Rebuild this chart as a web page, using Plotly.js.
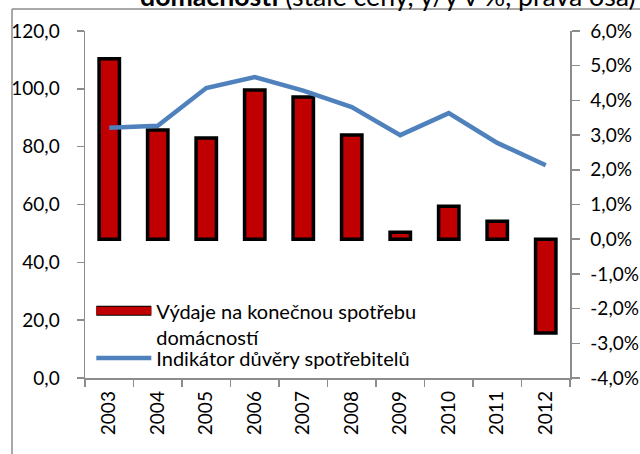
<!DOCTYPE html>
<html>
<head>
<meta charset="utf-8">
<script src="https://cdn.plot.ly/plotly-3.0.1.min.js"></script>
<style>html,body{margin:0;padding:0;background:#fff;}#chart{width:640px;height:454px;}</style>
</head>
<body>
<div id="chart"></div>
<script>
const years = ["2003","2004","2005","2006","2007","2008","2009","2010","2011","2012"];
const spendingPct = [5.2, 3.15, 2.92, 4.3, 4.1, 3.0, 0.2, 0.95, 0.52, -2.7];
const confidence = [86.5, 87.2, 100.3, 104.1, 99.4, 93.7, 84.0, 91.6, 81.3, 73.6];
const leftTicks = [0, 20, 40, 60, 80, 100, 120];
const leftTickText = ["0,0", "20,0", "40,0", "60,0", "80,0", "100,0", "120,0"];
const rightTicks = [-4, -3, -2, -1, 0, 1, 2, 3, 4, 5, 6];
const rightTickText = ["-4,0%", "-3,0%", "-2,0%", "-1,0%", "0,0%", "1,0%", "2,0%", "3,0%", "4,0%", "5,0%", "6,0%"];
const spendingName = "Výdaje na konečnou spotřebu<br>domácností";
const confidenceName = "Indikátor důvěry spotřebitelů";
const titleText = "<b>domácností</b> (stálé ceny, y/y v %, pravá osa)";

function tickF() { return {family: "Lato", size: 19, color: "#000"}; }
function sans(s) { return {family: "Lato", size: s, color: "#000"}; }

const barColor = "#c00000";
const lineColor = "#4f81bd";

const traces = [
  {
    type: "bar", x: years, y: spendingPct, name: spendingName, yaxis: "y",
    width: 0.42, showlegend: false, legendgroup: "spend",
    marker: {color: barColor, line: {color: "#000", width: 3.5}}
  },
  {
    type: "scatter", mode: "lines", x: years, y: confidence, name: confidenceName, yaxis: "y2",
    legend: "legend2",
    line: {color: lineColor, width: 4.5}
  },
  // legend key for the bars (wide outlined box like the original): outline + fill
  {
    type: "scatter", mode: "lines", x: [null], y: [null], name: spendingName, yaxis: "y",
    legend: "legend", legendgroup: "spend",
    line: {color: "#000", width: 14}
  },
  {
    type: "scatter", mode: "lines", x: [null], y: [null], name: " ", yaxis: "y",
    legend: "legend3", legendgroup: "spend",
    line: {color: barColor, width: 8}
  }
];

const legendBase = {
  xanchor: "left", yanchor: "top", bgcolor: "rgba(0,0,0,0)", valign: "top",
  tracegroupgap: 0, itemwidth: 55
};

const layout = {
  width: 640, height: 454,
  margin: {l: 85, r: 70, t: 31, b: 76},
  paper_bgcolor: "#fff", plot_bgcolor: "#fff",
  font: {family: "Lato", size: 19, color: "#000"},
  showlegend: true,
  xaxis: {
    type: "category", showgrid: false, zeroline: false,
    showline: true, linecolor: "#8c8c8c", linewidth: 1.5,
    ticks: "outside", tickson: "boundaries", ticklen: 7, tickcolor: "#8c8c8c", tickwidth: 1.5,
    tickangle: -90, tickfont: tickF(), ticklabelstandoff: 4
  },
  yaxis: {
    side: "right", range: [-4, 6], tickmode: "array", tickvals: rightTicks, ticktext: rightTickText,
    showgrid: false, zeroline: false, showline: true, linecolor: "#8c8c8c", linewidth: 1.5,
    ticks: "outside", ticklen: 8, tickcolor: "#8c8c8c", tickwidth: 1.5,
    tickfont: tickF(), ticklabelstandoff: 7
  },
  yaxis2: {
    side: "left", overlaying: "y", range: [0, 120], tickmode: "array", tickvals: leftTicks, ticktext: leftTickText,
    showgrid: false, zeroline: false, showline: true, linecolor: "#8c8c8c", linewidth: 1.5,
    ticks: "outside", ticklen: 7, tickcolor: "#8c8c8c", tickwidth: 1.5,
    tickfont: tickF(), ticklabelstandoff: 13
  },
  legend: Object.assign({x: 0.013, y: 0.25, font: sans(20)}, legendBase),
  legend3: Object.assign({x: 0.013, y: 0.25, font: sans(20)}, legendBase),
  legend2: Object.assign({x: 0.013, y: 0.114, font: sans(20)}, legendBase),
  annotations: [
    {xref: "paper", yref: "paper", x: 1.1394, y: 1.1, xanchor: "right", yanchor: "middle",
     text: titleText, showarrow: false, font: sans(26.7)}
  ],
  shapes: [
    {type: "line", xref: "paper", yref: "paper", x0: -0.1505, x1: 1.2, y0: 1.0634, y1: 1.0634,
     line: {color: "#8c8c8c", width: 1.5}},
    {type: "line", xref: "paper", yref: "paper", x0: -0.1505, x1: -0.1505, y0: 1.0634, y1: -0.22,
     line: {color: "#8c8c8c", width: 1.5}}
  ]
};

Plotly.newPlot("chart", traces, layout, {displayModeBar: false, staticPlot: true});
</script>
</body>
</html>
